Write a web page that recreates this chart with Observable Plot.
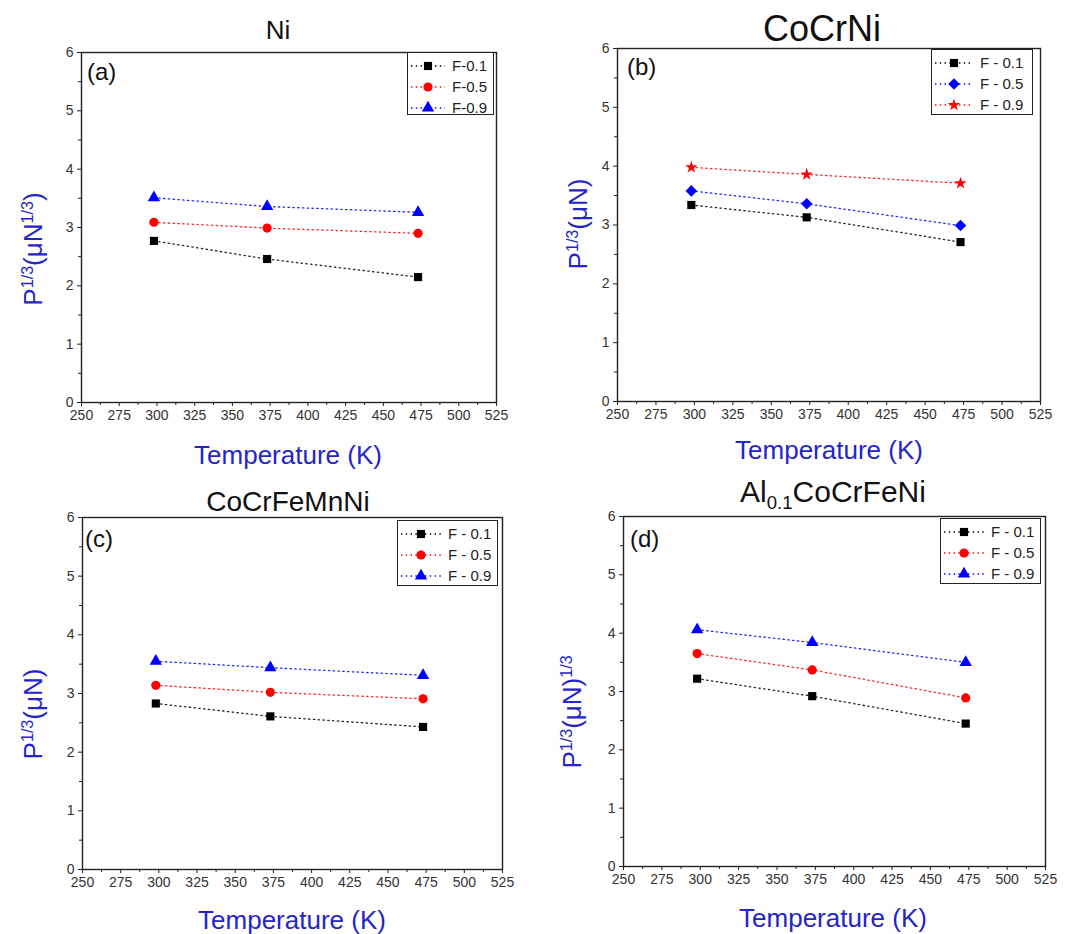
<!DOCTYPE html>
<html>
<head>
<meta charset="utf-8">
<script src="https://cdn.jsdelivr.net/npm/d3@7"></script>
<script src="https://cdn.jsdelivr.net/npm/@observablehq/plot@0.6"></script>
<style>
  html, body { margin: 0; padding: 0; background: #fff; }
  #root { position: relative; width: 1072px; height: 934px; background: #fff; overflow: hidden;
          font-family: "Liberation Sans", Arial, sans-serif; }
  .abs { position: absolute; white-space: nowrap; }
  .title { color: #111; transform: translate(-50%, -50%); }
  .xlab { color: #2424c8; font-size: 26px; transform: translate(-50%, -50%); }
  .ylab { color: #2424c8; font-size: 26px; transform: translate(-50%, -50%) rotate(-90deg); }
  .ylab sup, .title sub { font-size: 62%; }
  .ylab sup { vertical-align: 0.55em; line-height: 0; }
  .title sub { vertical-align: -0.35em; line-height: 0; }
  .plabel { font-size: 24px; color: #111; transform: translate(0, -50%); }
  .legend { border: 1.5px solid #222; background: #fff; padding: 2px 4px 2px 2px; box-sizing: border-box; }
  .legend .row { display: flex; align-items: center; height: 21px; font-size: 15px; color: #222; }
  .legend svg { display: block; margin-right: 6px; }
</style>
</head>
<body>
<div id="root"></div>
<script>
// ---------------- data ----------------
const temps = [298, 373, 473];
const xTicks = [250, 275, 300, 325, 350, 375, 400, 425, 450, 475, 500, 525];
const xMinor = [262.5, 287.5, 312.5, 337.5, 362.5, 387.5, 412.5, 437.5, 462.5, 487.5, 512.5];
const yTicks = [0, 1, 2, 3, 4, 5, 6];
const yMinor = [0.5, 1.5, 2.5, 3.5, 4.5, 5.5];

// (a) Ni
const niF01 = [2.77, 2.46, 2.15];
const niF05 = [3.09, 2.99, 2.90];
const niF09 = [3.51, 3.36, 3.26];
// (b) CoCrNi
const cocrniF01 = [3.34, 3.13, 2.71];
const cocrniF05 = [3.58, 3.36, 2.99];
const cocrniF09 = [3.98, 3.86, 3.71];
// (c) CoCrFeMnNi
const cantorF01 = [2.83, 2.61, 2.43];
const cantorF05 = [3.14, 3.02, 2.91];
const cantorF09 = [3.55, 3.44, 3.31];
// (d) Al0.1CoCrFeNi
const alF01 = [3.22, 2.92, 2.45];
const alF05 = [3.65, 3.37, 2.89];
const alF09 = [4.06, 3.84, 3.50];

const legendA = ["F-0.1", "F-0.5", "F-0.9"];
const legendB = ["F - 0.1", "F - 0.5", "F - 0.9"];

const panels = [
  { title: "Ni", titleSize: 26, tx: 278, ty: 30, tag: "(a)", tagX: 87, tagY: 72,
    frame: [81, 496, 52, 402], ylab: "P<sup>1/3</sup>(μN<sup>1/3</sup>)", ylx: 33, yly: 249,
    xlx: 288, xly: 455, leg: [407, 52, 87, 63], legW: 36,
    series: [
      { name: legendA[0], values: niF01, color: "#000000", symbol: "square" },
      { name: legendA[1], values: niF05, color: "#ff0000", symbol: "circle" },
      { name: legendA[2], values: niF09, color: "#0000ff", symbol: "triangle" } ] },
  { title: "CoCrNi", titleSize: 36, tx: 822, ty: 29, tag: "(b)", tagX: 627, tagY: 67,
    frame: [617, 1040, 48, 401], ylab: "P<sup>1/3</sup>(μN)", ylx: 578, yly: 224,
    xlx: 829, xly: 450, leg: [931, 49, 102, 66], legW: 40,
    series: [
      { name: legendB[0], values: cocrniF01, color: "#000000", symbol: "square" },
      { name: legendB[1], values: cocrniF05, color: "#0000ff", symbol: "diamond2" },
      { name: legendB[2], values: cocrniF09, color: "#ff0000", symbol: "star" } ] },
  { title: "CoCrFeMnNi", titleSize: 28, tx: 288, ty: 502, tag: "(c)", tagX: 85, tagY: 539,
    frame: [82, 502, 517, 869], ylab: "P<sup>1/3</sup>(μN)", ylx: 33, yly: 714,
    xlx: 292, xly: 920, leg: [397, 520, 101, 66], legW: 42,
    series: [
      { name: legendB[0], values: cantorF01, color: "#000000", symbol: "square" },
      { name: legendB[1], values: cantorF05, color: "#ff0000", symbol: "circle" },
      { name: legendB[2], values: cantorF09, color: "#0000ff", symbol: "triangle" } ] },
  { title: "Al<sub>0.1</sub>CoCrFeNi", titleSize: 30, tx: 833, ty: 492, tag: "(d)", tagX: 630, tagY: 539,
    frame: [623, 1045, 516, 866], ylab: "P<sup>1/3</sup>(μN)<sup>1/3</sup>", ylx: 572, yly: 712,
    xlx: 833, xly: 918, leg: [940, 518, 101, 66], legW: 42,
    series: [
      { name: legendB[0], values: alF01, color: "#000000", symbol: "square" },
      { name: legendB[1], values: alF05, color: "#ff0000", symbol: "circle" },
      { name: legendB[2], values: alF09, color: "#0000ff", symbol: "triangle" } ] }
];

// rotated square (diamond like Origin's)
const diamond2 = {
  draw(context, size) {
    const r = Math.sqrt(size / 2);
    context.moveTo(0, -r); context.lineTo(r, 0); context.lineTo(0, r); context.lineTo(-r, 0); context.closePath();
  }
};
function sym(name) { return name === "diamond2" ? diamond2 : name; }
function d3sym(name) {
  return ({ square: d3.symbolSquare, circle: d3.symbolCircle, triangle: d3.symbolTriangle,
            star: d3.symbolStar, diamond2: diamond2 })[name];
}
function rad(name) { return name === "star" ? R * 0.85 : R; }

const root = document.getElementById("root");
const FONT = '"Liberation Sans", Arial, sans-serif';
const R = 4.6;
const DASH = "1.4,3.4";

function addDiv(cls, html, x, y, extra) {
  const d = document.createElement("div");
  d.className = "abs " + cls;
  d.innerHTML = html;
  d.style.left = x + "px";
  d.style.top = y + "px";
  if (extra) Object.assign(d.style, extra);
  root.appendChild(d);
  return d;
}

for (const p of panels) {
  const [x0, x1, y0, y1] = p.frame;
  const ml = 50, mr = 10, mt = 10, mb = 35;
  const marks = [
    Plot.axisX({ ticks: xMinor, tickSize: 3, tickFormat: () => "", stroke: "#222" }),
    Plot.axisY({ ticks: yMinor, tickSize: 3, tickFormat: () => "", stroke: "#222" }),
    Plot.axisX({ ticks: xTicks, tickSize: 4, tickPadding: 4, tickFormat: d => String(d), stroke: "#222",
                 fill: "#333", fontSize: 14, fontFamily: FONT }),
    Plot.axisY({ ticks: yTicks, tickSize: 4, tickPadding: 4, tickFormat: d => String(d), stroke: "#222",
                 fill: "#333", fontSize: 14, fontFamily: FONT }),
    Plot.frame({ stroke: "#222", strokeWidth: 1.4 })
  ];
  for (const s of p.series) {
    const rows = s.values.map((v, i) => ({ T: temps[i], P: v }));
    marks.push(Plot.line(rows, { x: "T", y: "P", stroke: s.color, strokeWidth: 1.3, strokeDasharray: DASH,
                                 strokeOpacity: 0.85 }));
  }
  for (const s of p.series) {
    const rows = s.values.map((v, i) => ({ T: temps[i], P: v }));
    marks.push(Plot.dot(rows, { x: "T", y: "P", symbol: sym(s.symbol), fill: s.color, stroke: "none",
                                r: rad(s.symbol) }));
  }
  const svg = Plot.plot({
    width: x1 - x0 + ml + mr,
    height: y1 - y0 + mt + mb,
    marginLeft: ml, marginRight: mr, marginTop: mt, marginBottom: mb,
    x: { domain: [250, 525], label: null },
    y: { domain: [0, 6], label: null },
    style: { fontFamily: FONT, fontSize: "14px", background: "transparent", overflow: "visible" },
    marks
  });
  svg.style.position = "absolute";
  svg.style.left = (x0 - ml) + "px";
  svg.style.top = (y0 - mt) + "px";
  root.appendChild(svg);

  addDiv("title", p.title, p.tx, p.ty, { fontSize: p.titleSize + "px" });
  addDiv("plabel", p.tag, p.tagX, p.tagY);
  addDiv("xlab", "Temperature (K)", p.xlx, p.xly);
  addDiv("ylab", p.ylab, p.ylx, p.yly);

  // legend
  const [lx, ly, lw, lh] = p.leg;
  const leg = addDiv("legend", "", lx, ly, { width: lw + "px", height: lh + "px" });
  for (const s of p.series) {
    const row = document.createElement("div");
    row.className = "row";
    const w = p.legW;
    const ns = "http://www.w3.org/2000/svg";
    const sv = document.createElementNS(ns, "svg");
    sv.setAttribute("width", w); sv.setAttribute("height", 16);
    const ln = document.createElementNS(ns, "line");
    ln.setAttribute("x1", 1); ln.setAttribute("x2", w - 1);
    ln.setAttribute("y1", 8); ln.setAttribute("y2", 8);
    ln.setAttribute("stroke", s.color); ln.setAttribute("stroke-width", 1.3);
    ln.setAttribute("stroke-dasharray", DASH);
    sv.appendChild(ln);
    const path = document.createElementNS(ns, "path");
    const rr = rad(s.symbol);
    path.setAttribute("d", d3.symbol(d3sym(s.symbol), Math.PI * rr * rr)());
    path.setAttribute("transform", `translate(${w / 2},8)`);
    path.setAttribute("fill", s.color);
    sv.appendChild(path);
    row.appendChild(sv);
    const t = document.createElement("span");
    t.textContent = s.name;
    row.appendChild(t);
    leg.appendChild(row);
  }
}
</script>
</body>
</html>
